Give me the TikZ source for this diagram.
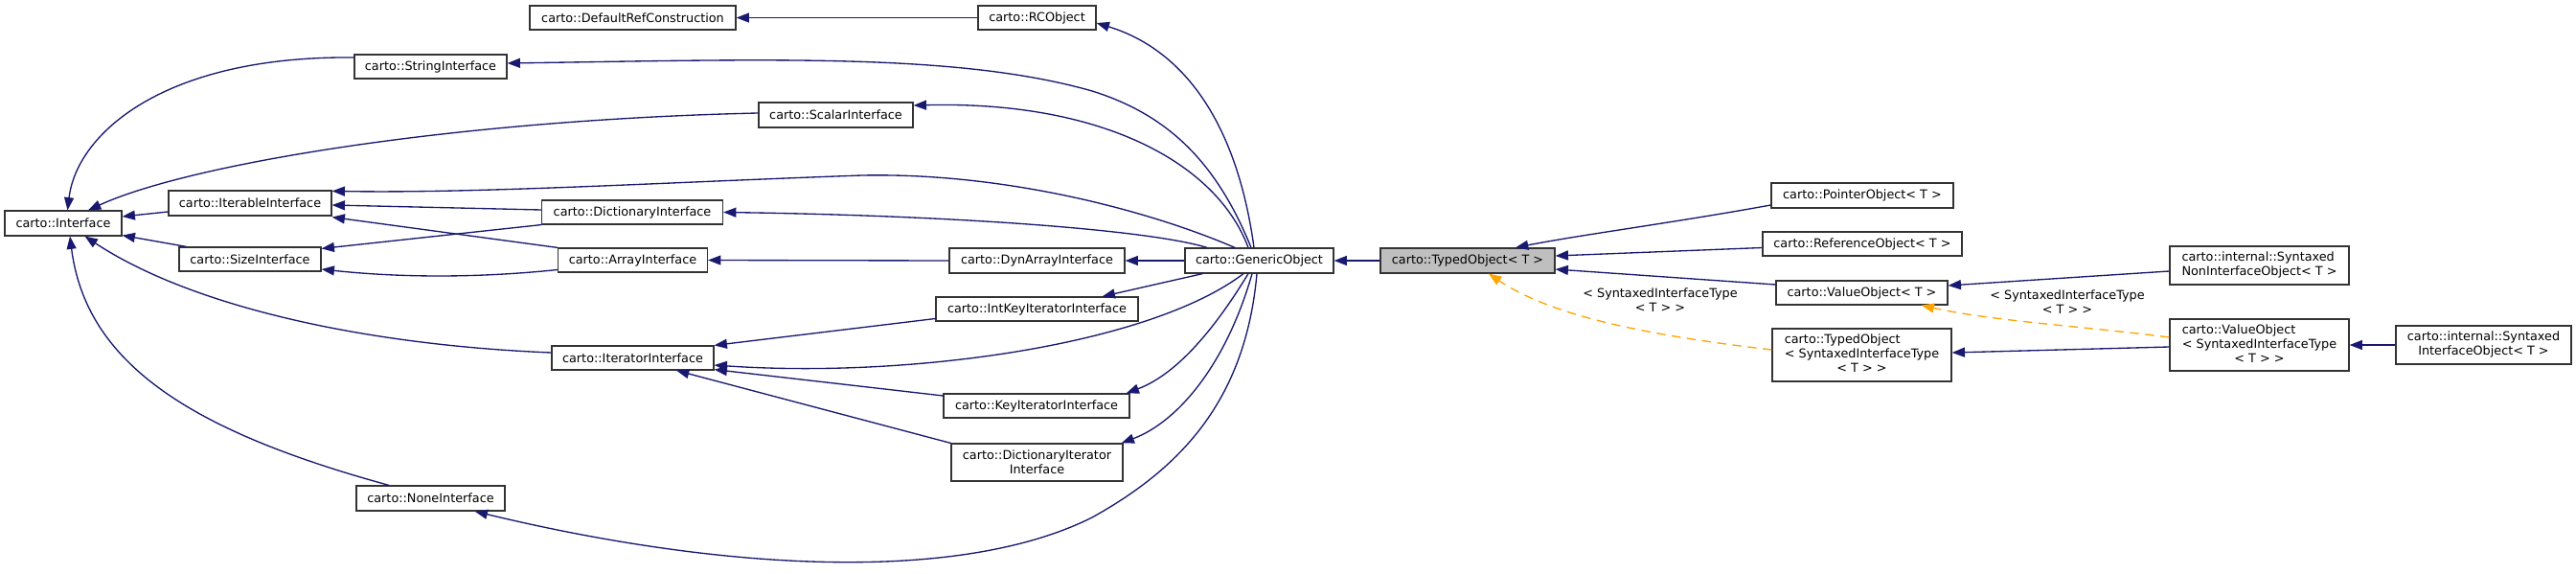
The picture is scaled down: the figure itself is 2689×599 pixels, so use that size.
\documentclass[tikz,border=0pt]{standalone}
\usepackage{fontspec}
\setmainfont{DejaVu Sans}
\usetikzlibrary{arrows.meta,calc}
\definecolor{edgeblue}{HTML}{191970}
\definecolor{deporange}{HTML}{FFA500}
\definecolor{nodegray}{HTML}{BFBFBF}
\definecolor{border}{HTML}{333333}
\tikzset{
 cls/.style={draw=border, line width=0.9pt, fill=white, inner sep=0pt, font=\fontsize{9.6}{11.25}\selectfont, align=center},
 sz/.style 2 args={minimum width={#1*0.75pt}, minimum height={#2*0.75pt}},
 inh/.style={draw=edgeblue, line width=1pt, -{Triangle[length=10pt,width=7.5pt]}},
 tpl/.style={draw=deporange, line width=1pt, dash pattern=on 7pt off 5pt, -{Triangle[length=10pt,width=7.5pt]}},
 lbl/.style={font=\fontsize{9.6}{11.25}\selectfont, align=center, inner sep=0pt}
}
\begin{document}
\begin{tikzpicture}[x=0.75pt,y=-0.75pt]
\useasboundingbox (0,0) rectangle (2689,599);
\fill[white] (0,0) rectangle (2689,599);
% nodes
\node[cls, sz={215}{25}] (drc) at (660.5,18.5) {carto::DefaultRefConstruction};
\node[cls, sz={123}{25}] (rco) at (1082.5,18.5) {carto::RCObject};
\node[cls, sz={159}{25}] (str) at (449.5,69.5) {carto::StringInterface};
\node[cls, sz={161}{26}] (sca) at (872.5,120) {carto::ScalarInterface};
\node[cls, sz={122}{26}] (itf) at (66,233) {carto::Interface};
\node[cls, sz={170}{26}] (itb) at (261,212) {carto::IterableInterface};
\node[cls, sz={148}{25}] (siz) at (261,270.5) {carto::SizeInterface};
\node[cls, sz={189}{25}] (dic) at (660,221.5) {carto::DictionaryInterface};
\node[cls, sz={156}{25}] (arr) at (660.5,271.5) {carto::ArrayInterface};
\node[cls, sz={183}{26}] (dyn) at (1082.5,272) {carto::DynArrayInterface};
\node[cls, sz={155}{26}] (gen) at (1314.5,272) {carto::GenericObject};
\node[cls, sz={211}{25}] (ike) at (1082.5,322.5) {carto::IntKeyIteratorInterface};
\node[cls, sz={169}{25}] (ite) at (660.5,373.5) {carto::IteratorInterface};
\node[cls, sz={194}{25}] (kit) at (1082,423.5) {carto::KeyIteratorInterface};
\node[cls, sz={179}{39}] (dit) at (1082.5,482.5) {carto::DictionaryIterator\\Interface};
\node[cls, sz={155}{26}] (non) at (449.5,520) {carto::NoneInterface};
\node[cls, sz={182}{26}, fill=nodegray] (typ) at (1532,272) {carto::TypedObject< T >};
\node[cls, sz={190}{26}] (ptr) at (1944,204) {carto::PointerObject< T >};
\node[cls, sz={208}{25}] (ref) at (1944,254.5) {carto::ReferenceObject< T >};
\node[cls, sz={179}{25}] (val) at (1943.5,305.5) {carto::ValueObject< T >};
\node[cls, sz={187}{55}] (tsi) at (1943.5,370.5) {\begin{tabular}{@{}l@{}}carto::TypedObject\\< SyntaxedInterfaceType\\\multicolumn{1}{@{}c@{}}{< T > >}\end{tabular}};
\node[cls, sz={187}{40}] (sni) at (2358.5,277) {\begin{tabular}{@{}l@{}}carto::internal::Syntaxed\\NonInterfaceObject< T >\end{tabular}};
\node[cls, sz={187}{54}] (vsi) at (2358.5,360) {\begin{tabular}{@{}l@{}}carto::ValueObject\\< SyntaxedInterfaceType\\\multicolumn{1}{@{}c@{}}{< T > >}\end{tabular}};
\node[cls, sz={183}{40}] (sio) at (2592.5,360) {\begin{tabular}{@{}l@{}}carto::internal::Syntaxed\\\multicolumn{1}{@{}c@{}}{InterfaceObject< T >}\end{tabular}};
% labels
\node[lbl] (l1) at (1733,313) {< SyntaxedInterfaceType\\< T > >};
\node[lbl] (l2) at (2158,315) {< SyntaxedInterfaceType\\< T > >};
% edges
\draw[inh] (rco.west) -- (drc.east);
\draw[inh] ($(gen.north)+(-5.5,0)$) .. controls (1290,120) and (1230,50) .. ($(rco.east)+(0,5.5)$);
\draw[inh] ($(gen.north)+(-8.5,0)$) .. controls (1270,170) and (1220,120) .. (1140,95) .. controls (1000,55) and (800,62) .. ($(str.east)+(0,-3.5)$);
\draw[inh] ($(gen.north)+(-11.5,0)$) .. controls (1270,170) and (1150,105) .. ($(sca.east)+(0,-10)$);
\draw[inh] ($(gen.north)+(-25.5,0)$) .. controls (1200,220) and (1050,180) .. (900,183) .. controls (700,190) and (500,202) .. ($(itb.north east)+(0,1)$);
\draw[inh] ($(gen.north)+(-54.5,0)$) .. controls (1200,240) and (1000,225) .. (dic.east);
\draw[inh] ($(dic.west)+(0,-2.5)$) -- ($(itb.east)+(0,2)$);
\draw[inh] (arr.north west) -- ($(itb.south east)+(0,1)$);
\draw[inh] (dic.south west) -- ($(siz.north east)+(0,2)$);
\draw[inh] ($(arr.west)+(0,10)$) .. controls (500,290) and (420,290) .. ($(siz.east)+(0,10.5)$);
\draw[inh] ($(itb.west)+(0,9)$) -- ($(itf.east)+(0,-7)$);
\draw[inh] ($(siz.north west)+(8,0)$) -- ($(itf.south east)+(0,-1)$);
\draw[inh] ($(str.west)+(0,-9.5)$) .. controls (170,58) and (80,140) .. ($(itf.north)+(4.5,0)$);
\draw[inh] ($(sca.west)+(0,-2)$) .. controls (480,125) and (200,170) .. ($(itf.north)+(26,0)$);
\draw[inh] ($(non.north)+(-43.5,0)$) .. controls (200,450) and (90,380) .. ($(itf.south)+(7,0)$);
\draw[inh] ($(ite.west)+(0,-5.5)$) .. controls (380,360) and (200,320) .. ($(itf.south east)+(-39,0)$);
\draw[inh] ($(gen.south west)+(19,0)$) -- ($(ike.north east)+(-38,0)$);
\draw[inh] ($(ike.west)+(0,10)$) -- (ite.north east);
\draw[inh] ($(gen.south)+(-16.5,0)$) .. controls (1200,360) and (950,395) .. ($(ite.east)+(0,7.5)$);
\draw[inh] ($(kit.west)+(0,-10.5)$) -- ($(ite.south east)+(0,-1)$);
\draw[inh] (dit.north west) -- ($(ite.south)+(45.5,0)$);
\draw[inh] ($(gen.south)+(-11.5,0)$) .. controls (1270,340) and (1230,390) .. ($(kit.north east)+(-4,0)$);
\draw[inh] ($(gen.south)+(-7.5,0)$) .. controls (1280,380) and (1230,440) .. ($(dit.north east)+(-2,0)$);
\draw[inh] ($(gen.south)+(-2.5,0)$) .. controls (1300,420) and (1230,490) .. (1140,540) .. controls (1000,610) and (750,595) .. ($(non.south east)+(-32,0)$);
\draw[inh] (dyn.west) -- (arr.east);
\draw[inh] (gen.west) -- (dyn.east);
\draw[inh] (typ.west) -- (gen.east);
\draw[inh] ($(ptr.west)+(0,10)$) .. controls (1750,232) and (1650,245) .. ($(typ.north)+(50,0)$);
\draw[inh] ($(ref.west)+(0,4)$) -- ($(typ.east)+(0,-5)$);
\draw[inh] ($(val.west)+(0,-8.5)$) -- ($(typ.east)+(0,9)$);
\draw[inh] ($(sni.west)+(0,6)$) -- ($(val.east)+(0,-7.5)$);
\draw[inh] ($(vsi.west)+(0,2)$) -- ($(tsi.east)+(0,-2.5)$);
\draw[inh] (sio.west) -- (vsi.east);
\draw[tpl] ($(tsi.west)+(0,-5.5)$) .. controls (1720,350) and (1620,330) .. ($(typ.south)+(22,0)$);
\draw[tpl] ($(vsi.west)+(0,-8)$) .. controls (2170,340) and (2080,335) .. ($(val.south east)+(-28,0)$);
\end{tikzpicture}
\end{document}
